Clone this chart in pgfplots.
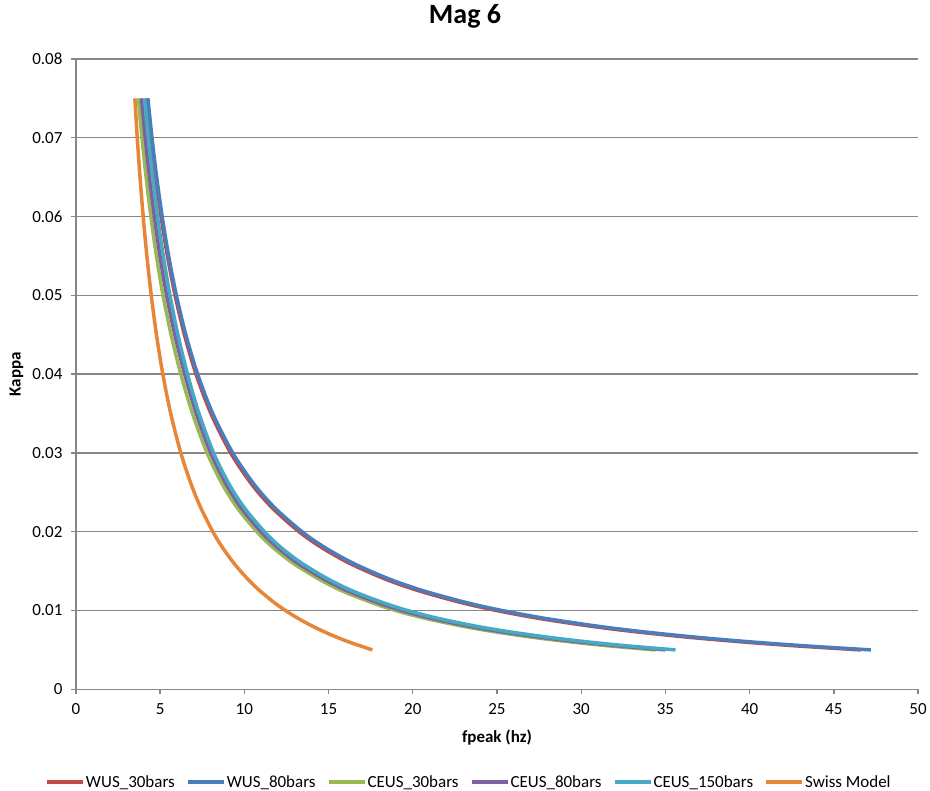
\documentclass[border=0pt]{standalone}
\usepackage{fontspec}
\setmainfont{Carlito}
\usepackage{pgfplots}
\usepackage{pgfplotstable}
\pgfplotsset{compat=1.18}

\definecolor{wusred}{RGB}{190,75,72}
\definecolor{wusblue}{RGB}{74,126,187}
\definecolor{ceusgreen}{RGB}{152,185,84}
\definecolor{ceuspurple}{RGB}{125,96,160}
\definecolor{ceusteal}{RGB}{70,170,197}
\definecolor{swissorange}{RGB}{231,134,54}
\definecolor{axisgray}{RGB}{134,134,134}

% fpeak (hz) for each kappa
\pgfplotstableread{
kappa   wus30   wus80   ceus30  ceus80  ceus150
0.075   4.217   4.273   3.706   3.889   4.072
0.070   4.457   4.516   3.921   4.114   4.299
0.065   4.733   4.795   4.168   4.364   4.555
0.060   5.054   5.121   4.452   4.656   4.850
0.055   5.433   5.505   4.781   4.989   5.186
0.050   5.887   5.965   5.170   5.388   5.583
0.045   6.441   6.526   5.650   5.874   6.056
0.040   7.131   7.225   6.228   6.459   6.625
0.035   8.015   8.121   6.922   7.148   7.309
0.030   9.189   9.310   7.790   8.011   8.174
0.026   10.445  10.583  8.701   8.928   9.101
0.023   11.667  11.821  9.591   9.822   10.012
0.020   13.247  13.421  10.745  10.992  11.193
0.018   14.582  14.774  11.699  11.967  12.174
0.016   16.239  16.453  12.899  13.181  13.409
0.014   18.351  18.593  14.413  14.713  14.967
0.0125  20.360  20.628  15.792  16.120  16.399
0.011   22.888  23.189  17.571  17.917  18.227
0.010   24.971  25.300  18.974  19.348  19.683
0.009   27.490  27.852  20.749  21.136  21.502
0.008   30.595  30.998  22.967  23.371  23.775
0.0073  33.238  33.676  24.853  25.291  25.728
0.0066  36.396  36.875  27.108  27.585  28.062
0.006   39.637  40.159  29.406  29.924  30.441
0.0055  42.826  43.390  31.688  32.245  32.803
0.005   46.587  47.201  34.389  34.994  35.599
}\curves

\pgfplotstableread{
kappa   swiss
0.075   3.500
0.070   3.642
0.065   3.806
0.060   3.994
0.055   4.213
0.050   4.472
0.045   4.781
0.040   5.158
0.035   5.628
0.030   6.228
0.026   6.845
0.023   7.420
0.020   8.129
0.018   8.701
0.016   9.379
0.014   10.193
0.0125  10.921
0.011   11.778
0.010   12.441
0.009   13.193
0.008   14.055
0.007   15.052
0.006   16.217
0.005   17.600
}\swiss

\begin{document}
\begin{tikzpicture}
\begin{axis}[
    scale only axis,
    width=843pt,
    height=631pt,
    xmin=0, xmax=50,
    ymin=0, ymax=0.08,
    xtick={0,5,10,15,20,25,30,35,40,45,50},
    ytick={0,0.01,0.02,0.03,0.04,0.05,0.06,0.07,0.08},
    axis x line=bottom,
    axis y line=left,
    axis line style={-, draw=axisgray, line width=1.3pt},
    tick align=outside,
    major tick length=5pt,
    tick style={axisgray, line width=1.3pt},
    ymajorgrids,
    grid style={axisgray, line width=1.3pt},
    tick label style={font=\fontsize{17}{20}\selectfont},
    /pgf/number format/assume math mode=true,
    scaled y ticks=false,
    yticklabel style={/pgf/number format/fixed, /pgf/number format/precision=2, xshift=-5pt},
    xticklabel style={yshift=-6pt},
    title={Mag 6},
    title style={font=\fontsize{28}{32}\selectfont\bfseries, at={(axis description cs:0.462,1.046)}, anchor=base},
    xlabel={fpeak (hz)},
    xlabel style={font=\fontsize{17}{20}\selectfont\bfseries, at={(axis description cs:0.5,-0.0845)}, anchor=base},
    ylabel={Kappa},
    ylabel style={font=\fontsize{17}{20}\selectfont\bfseries, at={(axis description cs:-0.0706,0.5)}, anchor=center},
    legend columns=6,
    legend style={draw=none, fill=none, at={(0.466,-0.1474)}, anchor=center,
        font=\fontsize{17}{20}\selectfont, inner sep=0pt,
        nodes={inner sep=1pt},
        /tikz/every even column/.append style={column sep=10pt}},
    legend image code/.code={\draw[#1, line width=4pt] (0pt,0pt) -- (36pt,0pt);},
    every axis plot/.append style={line width=3.5pt, no markers, smooth, line join=round},
]

\addplot[wusred] table[x=wus30, y=kappa] {\curves};
\addlegendentry{WUS\_30bars}

\addplot[wusblue] table[x=wus80, y=kappa] {\curves};
\addlegendentry{WUS\_80bars}

\addplot[ceusgreen] table[x=ceus30, y=kappa] {\curves};
\addlegendentry{CEUS\_30bars}

\addplot[ceuspurple] table[x=ceus80, y=kappa] {\curves};
\addlegendentry{CEUS\_80bars}

\addplot[ceusteal] table[x=ceus150, y=kappa] {\curves};
\addlegendentry{CEUS\_150bars}

\addplot[swissorange] table[x=swiss, y=kappa] {\swiss};
\addlegendentry{Swiss Model}

\end{axis}
\path (current axis.south west) ++(-76pt,-101pt) rectangle ++(930pt,791pt);
\end{tikzpicture}
\end{document}
